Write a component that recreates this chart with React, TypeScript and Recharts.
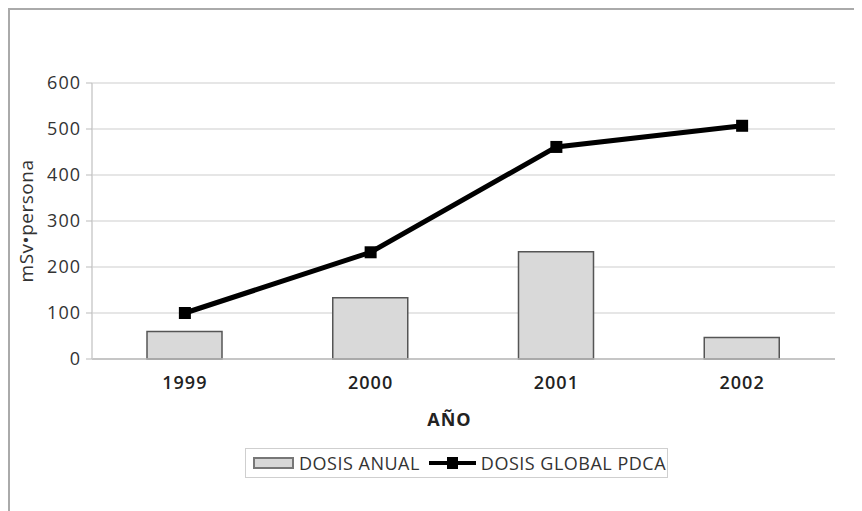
import React from "react";
import {
  ComposedChart,
  Bar,
  Line,
  XAxis,
  YAxis,
  CartesianGrid,
  Legend,
} from "recharts";

const years = ["1999", "2000", "2001", "2002"];
const dosisAnual = [60, 133, 233, 47];
const dosisGlobal = [100, 232, 461, 507];
const yTicks = [0, 100, 200, 300, 400, 500, 600];

const data = years.map((year, i) => ({
  year,
  anual: dosisAnual[i],
  global: dosisGlobal[i],
}));

const FONT = "'Open Sans', sans-serif";

const SquareDot = (props: any) => {
  const { cx, cy } = props;
  if (cx == null || cy == null) return null;
  return <rect x={cx - 6} y={cy - 6} width={12} height={12} fill="#000" />;
};

const YLabel = (props: any) => {
  const vb = props.viewBox || {};
  const cy = vb.y + vb.height / 2;
  return (
    <text
      x={16}
      y={cy}
      transform={`rotate(-90, 16, ${cy})`}
      textAnchor="middle"
      dominantBaseline="central"
      fontSize={19}
      letterSpacing={0.5}
      fill="#333"
      fontFamily={FONT}
    >
      mSv•persona
    </text>
  );
};

const LegendBox = () => (
  <div
    style={{
      border: "1px solid #cfcfcf",
      height: 28,
      width: 421,
      display: "flex",
      alignItems: "center",
      fontFamily: FONT,
      fontSize: 18,
      letterSpacing: 0.5,
      color: "#333",
      boxSizing: "content-box",
      whiteSpace: "nowrap",
    }}
  >
    <svg width={41} height={12} style={{ marginLeft: 7, marginRight: 5 }}>
      <rect x={1} y={1} width={39} height={10} fill="#d8d8d8" stroke="#777" strokeWidth={2} />
    </svg>
    <span>DOSIS ANUAL</span>
    <svg width={47} height={12} style={{ marginLeft: 9, marginRight: 5 }}>
      <line x1={0} y1={6} x2={47} y2={6} stroke="#000" strokeWidth={4} />
      <rect x={18} y={0} width={11} height={12} fill="#000" />
    </svg>
    <span>DOSIS GLOBAL PDCA</span>
  </div>
);

export default function App() {
  return (
    <div
      style={{
        width: 852,
        height: 501,
        borderTop: "2px solid #aaa",
        borderLeft: "2px solid #aaa",
        background: "#fff",
      }}
    >
      <ComposedChart
        width={852}
        height={501}
        data={data}
        margin={{ top: 73, right: 27, bottom: 72, left: 22 }}
        style={{ fontFamily: FONT }}
      >
        <CartesianGrid vertical={false} stroke="#dedede" strokeWidth={1.5} />
        <XAxis
          dataKey="year"
          height={80}
          tickLine={false}
          tickSize={0}
          tickMargin={17}
          axisLine={{ stroke: "#bbb", strokeWidth: 1.5 }}
          tick={{ fontSize: 18, fontWeight: 600, fill: "#222", letterSpacing: 1 }}
          label={{
            value: "AÑO",
            position: "insideBottom",
            offset: 13,
            dx: -14,
            style: { fontSize: 18, fontWeight: 700, fill: "#222", letterSpacing: 1 },
          }}
        />
        <YAxis
          width={60}
          domain={[0, 600]}
          ticks={yTicks}
          tickSize={6}
          tickMargin={5}
          tickLine={{ stroke: "#bbb" }}
          axisLine={{ stroke: "#ccc", strokeWidth: 1.5 }}
          tick={{ fontSize: 18, fill: "#333", letterSpacing: 1 }}
          label={<YLabel />}
        />
        <YAxis
          yAxisId="r"
          orientation="right"
          width={0}
          tick={false}
          tickLine={false}
          axisLine={{ stroke: "#e6e6e6", strokeWidth: 1.5 }}
        />
        <Legend
          layout="horizontal"
          verticalAlign="middle"
          align="center"
          content={<LegendBox />}
          wrapperStyle={{ top: 438, left: 235, width: 423, height: 30 }}
        />
        <Bar
          dataKey="anual"
          name="DOSIS ANUAL"
          barSize={75}
          fill="#d9d9d9"
          stroke="#555"
          strokeWidth={1.5}
          isAnimationActive={false}
        />
        <Line
          dataKey="global"
          name="DOSIS GLOBAL PDCA"
          type="linear"
          stroke="#000"
          strokeWidth={5}
          dot={<SquareDot />}
          activeDot={false}
          isAnimationActive={false}
        />
      </ComposedChart>
    </div>
  );
}
